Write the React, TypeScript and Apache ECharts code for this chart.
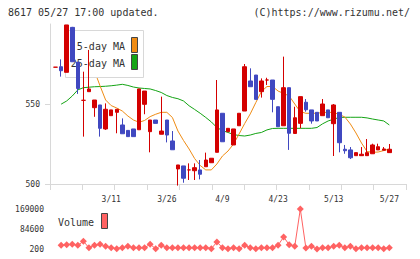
import React, { useEffect, useRef } from 'react';
import * as echarts from 'echarts';

// Daily OHLC, oldest first (first entry is the day before the window's first volume day)
const opens = [
  573, 573.3, 569.8, 597.9, 576.2, 552.3, 557.7, 547.7, 549.4, 534.4, 542.7,
  544.8, 536.9, 533.5, 534.4, 533.9, 549.8, 532.7, 540, 531.1, 540,
  526.9, 509.4, 511.3, 508.8, 508.3, 508.8, 510.8, 513.3, 519.8, 544.2,
  532.7, 524.4, 536.4, 545.6, 564.4, 568.1, 557.7, 565, 565, 548.3,
  536.4, 560.2, 531.6, 537.9, 551.1, 546.3, 544.8, 542.7, 546.3, 537.7,
  544.8, 521.7, 521.3, 517.7, 517.7, 517.7, 518.9, 521.3, 521.1, 519.6,
];
const closes = [
  573, 570.8, 599.4, 576.4, 559.7, 552.3, 559.4, 552.5, 534.8, 546.7, 546.3,
  546.7, 531.4, 529.6, 529.6, 559.4, 558.1, 540, 537.9, 533.1, 530.6,
  521.4, 511.9, 503.6, 508.8, 510.2, 506.1, 515, 516.1, 546.3, 526.4,
  534.8, 534.4, 544.2, 573.3, 560.8, 552.9, 564.4, 565, 552.9, 535.8,
  560.2, 531.7, 541.4, 554.6, 546.4, 539.4, 539.4, 550, 541.4, 549.4,
  525.8, 520.8, 516.4, 519.6, 518.6, 519.6, 524.4, 523.3, 521.9, 521.7,
];
const lows = [
  573, 567.1, 569.8, 576.4, 556.3, 529.6, 557.7, 542, 529.6, 533.8, 542.7,
  531.7, 531.4, 529.6, 529.6, 533.9, 543.6, 519.8, 537.9, 531.1, 526,
  521.4, 499, 500.8, 502.5, 502.5, 502.9, 510.8, 513.3, 519.8, 526.4,
  532.7, 524.4, 536.4, 545.6, 560.8, 552.9, 554, 561.9, 544.8, 535.8,
  536.4, 521.3, 531.6, 534.8, 545.2, 537.7, 539.4, 542.7, 541.4, 517.5,
  519.8, 518.9, 515.6, 517.7, 517.7, 517.7, 518.9, 521.3, 521.1, 519.6,
];
const highs = [
  573, 577.9, 599.4, 598.2, 576.2, 570.2, 583.8, 552.5, 549.4, 550.4, 546.3,
  546.7, 541, 533.5, 534.4, 559.4, 558.1, 540, 540, 554.6, 540,
  533.1, 511.9, 511.3, 512.9, 512.9, 515, 519.6, 516.1, 565, 544.2,
  534.8, 534.4, 544.2, 575, 572.3, 568.1, 566, 566.4, 565, 548.3,
  579.6, 560.2, 548.3, 554.6, 553.1, 546.3, 544.8, 553.1, 546.3, 550,
  544.8, 524.4, 523.1, 519.6, 523.1, 528.1, 525.2, 525.2, 523.1, 525,
];

// Moving averages for the 60 volume days ('-' = not drawn)
const ma5 = [
  '-', '-', '-', '-', '-', 572, 570.6, 561.3, 552.5, 549,
  547.5, 545.6, 542.5, 540, 538.6, 539.7, 542.1, 543.6, 544.8, 544.8,
  541.6, 533.1, 527.2, 521.9, 515.9, 511.6, 508.8, 508.8, 512.5, 517.5,
  520.6, 525, 531.3, 537.8, 543.8, 550.9, 557.8, 560.9, 561, 558.1,
  556.6, 555, 550, 545.2, 544.2, 544.2, 544.2, 544.7, 544.8, 544.7,
  543.4, 541.9, 537.5, 531.9, 525.6, 520.3, 519.8, 520, 520.9, 521.9,
];
const ma25 = [
  549.9, 551.9, 555, 558.8, 560.2, 560.5, 560.8, 560.9, 561.1, 561.4,
  561.8, 562.3, 561.6, 560.6, 560, 559.7, 559.4, 558.4, 557.2, 555.3,
  554.1, 553.3, 551.9, 548.9, 546.6, 544.2, 541.6, 538.8, 535.3, 533.4,
  532.2, 530.9, 530.3, 530, 530.6, 531.6, 532.2, 533.8, 534.7, 534.8,
  534.8, 534.8, 534.8, 534.8, 534.8, 534.8, 535.3, 537.6, 539.4, 540.5,
  541.6, 541.7, 541.7, 541.7, 541.7, 541.3, 540.6, 540, 539.4, 536.9,
];
const volumes = [
  15800, 18300, 20000, 15800, 32700, 5700, 15800, 20000, 11500, 5700,
  1500, 5700, 11500, 5700, 5700, 5700, 20000, 1500, 15800, 5700,
  5700, 5700, 5700, 5700, 5700, 5700, 5700, 1500, 29700, 5700,
  1500, 5700, 1500, 15800, 5700, 1500, 5700, 5700, 5700, 15800,
  50800, 18300, 11500, 169000, 4400, 11500, 200, 5700, 5700, 11500,
  15800, 5700, 11500, 1500, 5700, 5700, 5700, 5700, 1500, 5700,
];

// Date labels and the volume-day index each sits on
const tickLabels = ['3/11', '3/26', '4/9', '4/23', '5/13', '5/27'];
const tickDays = [9, 19, 29, 39, 49, 59];

const priceTicks = [500, 550];
const volumeTicks = [200, 84600, 169000];

const UP = '#d40000';
const DOWN = '#4048c0';
const MA5_COLOR = '#f08c14';
const MA25_COLOR = '#14a414';
const VOL_COLOR = '#ff6262';
const AXIS_COLOR = '#d8d8d8';
const TEXT_COLOR = '#333';
const MONO = 'DejaVu Sans Mono';

// slot layout of the x axis: two empty slots on the left, three on the right
const LEAD = 2;
const SLOTS = LEAD + volumes.length + 3;
const slots = Array.from({ length: SLOTS }, (_, k) => String(k - LEAD));

const labelAt: Record<number, string> = {};
tickDays.forEach((d, n) => { labelAt[d + LEAD] = tickLabels[n]; });

const candleData = slots.map((_, k) => {
  const j = k - LEAD + 1;
  if (j < 0 || j >= opens.length) return ['-', '-', '-', '-'];
  return [opens[j], closes[j], lows[j], highs[j]];
});
const onSlots = (arr: (number | string)[]) =>
  slots.map((_, k) => {
    const j = k - LEAD;
    return j >= 0 && j < arr.length ? arr[j] : '-';
  });

export default function App() {
  const ref = useRef<HTMLDivElement>(null);

  useEffect(() => {
    if (!ref.current) return;
    const chart = echarts.init(ref.current, null, { renderer: 'svg' });

    const legendText = (text: string, x: number, y: number, align: string) => ({
      type: 'text',
      z: 3,
      style: {
        text, x, y,
        fill: TEXT_COLOR,
        font: `10px "${MONO}"`,
        align, textAlign: align,
        verticalAlign: 'middle', textVerticalAlign: 'middle',
      },
    });
    const swatch = (x: number, y: number, w: number, h: number, fill: string) => ({
      type: 'rect',
      z: 3,
      shape: { x, y, width: w, height: h },
      style: { fill, stroke: '#444', lineWidth: 1 },
    });

    chart.setOption({
      animation: false,
      backgroundColor: '#fff',
      grid: [
        { left: 50, right: 14, top: 24, height: 160 },
        { left: 50, right: 14, top: 209, height: 40 },
      ],
      xAxis: [
        {
          type: 'category', gridIndex: 0, data: slots, boundaryGap: false,
          axisLine: { lineStyle: { color: AXIS_COLOR } },
          axisTick: { show: false },
          splitLine: { show: false },
          axisLabel: {
            interval: (k: number) => labelAt[k] !== undefined,
            formatter: (_v: string, k: number) => labelAt[k] ?? '',
            fontSize: 8, fontFamily: MONO, color: TEXT_COLOR, margin: 11,
          },
        },
        {
          type: 'value', gridIndex: 0, min: 0, max: 11, interval: 1, position: 'bottom',
          axisLine: { show: false },
          axisTick: { show: true, length: 6, lineStyle: { color: AXIS_COLOR } },
          axisLabel: { show: false },
          splitLine: { show: false },
        },
        {
          type: 'category', gridIndex: 1, data: slots, boundaryGap: false, show: false,
        },
      ],
      yAxis: [
        {
          type: 'value', gridIndex: 0, min: 500, max: 600,
          axisLine: { show: true, lineStyle: { color: AXIS_COLOR } },
          axisTick: { show: true, length: 5, lineStyle: { color: AXIS_COLOR }, customValues: priceTicks },
          axisLabel: { fontSize: 8, fontFamily: MONO, color: TEXT_COLOR, margin: 10, customValues: priceTicks },
          splitLine: { show: false },
        },
        {
          type: 'value', gridIndex: 1, min: 200, max: 169000,
          axisLine: { show: false },
          axisTick: { show: false },
          axisLabel: {
            fontSize: 8, fontFamily: MONO, color: TEXT_COLOR, margin: 6,
            customValues: volumeTicks,
            formatter: (v: number) => String(v),
          },
          splitLine: { show: false },
        },
      ],
      series: [
        {
          type: 'line', xAxisIndex: 0, yAxisIndex: 0, data: onSlots(ma25), z: 1,
          symbol: 'none', lineStyle: { color: MA25_COLOR, width: 1 },
        },
        {
          type: 'line', xAxisIndex: 0, yAxisIndex: 0, data: onSlots(ma5), z: 1,
          symbol: 'none', lineStyle: { color: MA5_COLOR, width: 1 },
        },
        {
          type: 'candlestick', xAxisIndex: 0, yAxisIndex: 0, data: candleData, z: 5,
          barWidth: 4,
          itemStyle: {
            color: UP, color0: DOWN, borderColor: UP, borderColor0: DOWN,
            borderColorDoji: UP, borderWidth: 1,
          },
        },
        {
          type: 'line', xAxisIndex: 2, yAxisIndex: 1, data: onSlots(volumes), z: 2,
          symbol: 'diamond', symbolSize: 7, showAllSymbol: true,
          itemStyle: { color: VOL_COLOR },
          lineStyle: { color: VOL_COLOR, width: 1 },
        },
      ],
      graphic: [
        legendText('8617 05/27 17:00 updated.', 8, 12, 'left'),
        legendText('(C)https://www.rizumu.net/', 410, 12, 'right'),
        {
          type: 'rect', z: 3,
          shape: { x: 65.5, y: 30.5, width: 78, height: 47 },
          style: { fill: '#fff', stroke: AXIS_COLOR, lineWidth: 1 },
        },
        legendText('5-day MA', 125, 46, 'right'),
        legendText('25-day MA', 125, 63, 'right'),
        swatch(131.5, 37.5, 6, 15, MA5_COLOR),
        swatch(131.5, 54.5, 6, 15, MA25_COLOR),
        legendText('Volume', 58, 222, 'left'),
        swatch(101.5, 213.5, 6, 15, VOL_COLOR),
      ],
    });

    return () => chart.dispose();
  }, []);

  return (
    <div
      ref={ref}
      style={{ position: 'fixed', left: 0, top: 0, width: 420, height: 259 }}
    />
  );
}
